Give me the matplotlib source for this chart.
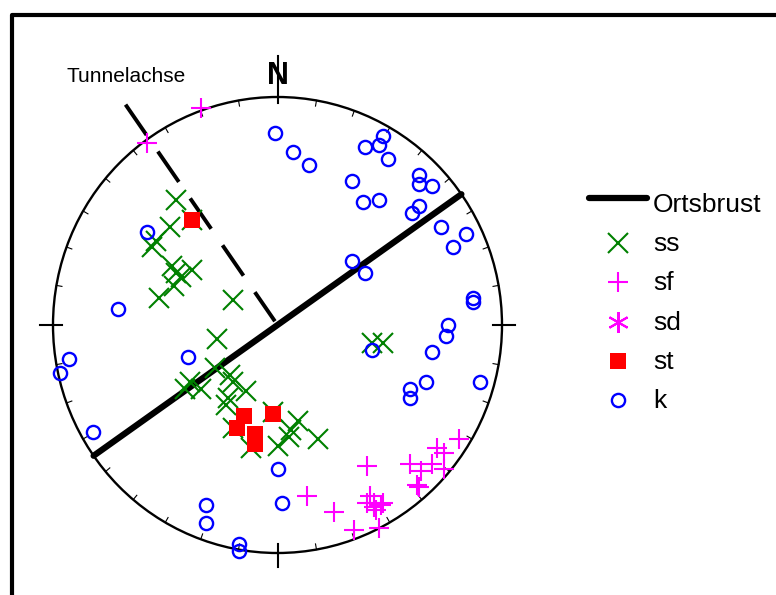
import numpy as np
import matplotlib
matplotlib.use("Agg")
import matplotlib.pyplot as plt
from matplotlib.patches import Circle
from matplotlib.lines import Line2D

plt.rcParams['font.family'] = ['Liberation Sans', 'DejaVu Sans']
plt.rcParams['lines.scale_dashes'] = False

# ---- data (projection coordinates, percent of net radius: East, North) ----
ss_x = [-45, -48, -54, -56, -47, -38, -45, -43, -46, -53, -20, -27, -28, -39, -41, -34,
        -21, -20, -14, -22, -23, -20, -12, -2, 9, 5, 0, 18, 6, 42, 47, -38]
ss_y = [55, 43, 37, 34, 26, 24, 23, 21, 17, 12, 11, -6, -19, -25, -28, -28,
        -22, -25, -29, -32, -35, -45, -54, -38, -42, -49, -53, -50, -46, -8, -8, 46]

sf_x = [-34, -58, 40, 13, 25, 34, 45, 41, 40, 43, 46, 47, 43, 44, 59, 64, 62, 63, 71, 74, 69, 74, 81]
sf_y = [95, 80, -62, -75, -82, -90, -89, -75, -78, -78, -79, -78, -80, -81, -61, -64, -70, -71, -54, -56, -61, -63, -50]

sd_x = []
sd_y = []

st_x = [-38, -15, -18, -10, -10, -2]
st_y = [46, -40, -45, -48, -52, -39]

k_x = [-1, 7, 14, 39, 45, 47, 49, 33, 38, 45, 63, 63, 69, 63, 60, 73, 84, 78, 33, 39, 87, 87,
       76, 75, 69, 42, 66, 59, 59, 90, -71, -93, -97, -40, -82, 0, -32, -32, 2, -17, -17, -58]
k_y = [84, 76, 70, 78, 79, 83, 73, 63, 54, 55, 66, 62, 61, 52, 49, 43, 40, 34, 28, 23, 12, 10,
       0, -5, -12, -11, -25, -28, -32, -25, 7, -15, -21, -14, -47, -63, -79, -87, -78, -96, -99, 41]

ortsbrust_strike = 55      # degrees azimuth
tunnelachse_trend = 325    # degrees azimuth
tunnelachse_r = (1.18, 0.02)

legend_labels = ['Ortsbrust', 'ss', 'sf', 'sd', 'st', 'k']

# ---- figure ----
W, H = 776, 595
fig = plt.figure(figsize=(W / 100, H / 100), dpi=100)
ax = fig.add_axes([0, 0, 1, 1])
cx, cy, rx, ry = 277.5, 325.0, 224.5, 228.0
ax.set_xlim(-cx / rx, (W - cx) / rx)
ax.set_ylim((cy - H) / ry, cy / ry)
ax.axis('off')

def pt(az, r):
    a = np.radians(az)
    return r * np.sin(a), r * np.cos(a)

# frame
ax.plot([12 / W, 12 / W, 1.0], [0.0, 1 - 15 / H, 1 - 15 / H], color='black', lw=3,
        transform=ax.transAxes, solid_capstyle='projecting', clip_on=False)

# net circle
ax.add_patch(Circle((0, 0), 1.0, fill=False, lw=1.7, ec='black', zorder=2))
for az in range(0, 360, 10):
    if az % 90 == 0:
        continue
    x0, y0 = pt(az, 0.975)
    x1, y1 = pt(az, 1.0)
    ax.plot([x0, x1], [y0, y1], color='black', lw=0.8, zorder=2)
for az in (90, 180, 270):
    x0, y0 = pt(az, 0.96)
    x1, y1 = pt(az, 1.06)
    ax.plot([x0, x1], [y0, y1], color='black', lw=1.5, zorder=2)
x0, y0 = pt(0, 0.974)
x1, y1 = pt(0, 1.18)
ax.text(0, 1.057, 'N', ha='center', va='baseline', fontsize=22, fontweight='bold', zorder=3)
ax.plot([x0, x1], [y0, y1], color='black', lw=1.5, zorder=4)

# Ortsbrust
x0, y0 = pt(ortsbrust_strike, 1.0)
x1, y1 = pt(ortsbrust_strike + 180, 1.0)
ax.plot([x1, x0], [y1, y0], color='black', lw=4.5, solid_capstyle='round', zorder=3)

# Tunnelachse
x0, y0 = pt(tunnelachse_trend, tunnelachse_r[0])
x1, y1 = pt(tunnelachse_trend, tunnelachse_r[1])
ax.plot([x0, x1], [y0, y1], color='black', lw=2.8, linestyle=(0, (26.6, 14.4)),
        dash_capstyle='butt', zorder=3)
ax.text(-0.938, 1.066, 'Tunnelachse', ha='left', va='baseline', fontsize=15)

def s(v):
    return np.array(v, dtype=float) / 100.0

ms_x = dict(marker='x', ms=15, mew=1.5, color='green', ls='none')
ms_p = dict(marker='+', ms=15, mew=1.5, color='magenta', ls='none')
ms_d = dict(marker=(6, 2, 0), ms=15, mew=1.5, color='magenta', ls='none')
ms_s = dict(marker='s', ms=11, mew=0, color='red', ls='none')
ms_o = dict(marker='o', ms=9.5, mew=1.7, mec='blue', mfc='none', ls='none')

ax.plot(s(ss_x), s(ss_y), zorder=5, clip_on=False, **ms_x)
ax.plot(s(sf_x), s(sf_y), zorder=5, clip_on=False, **ms_p)
ax.plot(s(sd_x), s(sd_y), zorder=5, clip_on=False, **ms_d)
ax.plot(s(st_x), s(st_y), zorder=6, clip_on=False, **ms_s)
ax.plot(s(k_x), s(k_y), zorder=7, clip_on=False, **ms_o)

# legend (drawn in pixel positions)
def fx(px):
    return px / W
def fy(py):
    return 1 - py / H

fig.add_artist(Line2D([fx(589), fx(647)], [fy(198), fy(198)], color='black', lw=4.5,
                      solid_capstyle='round', transform=fig.transFigure))
fig.text(fx(653), fy(212), legend_labels[0], fontsize=19, ha='left', va='baseline')
rows = [243, 282, 322, 361, 400]
styles = [ms_x, ms_p, ms_d, ms_s, ms_o]
for lab, yy, st in zip(legend_labels[1:], rows, styles):
    fig.add_artist(Line2D([fx(618)], [fy(yy)], transform=fig.transFigure, **st))
    fig.text(fx(653), fy(yy + 8), lab, fontsize=19, ha='left', va='baseline')

fig.savefig('out.png', dpi=100)
